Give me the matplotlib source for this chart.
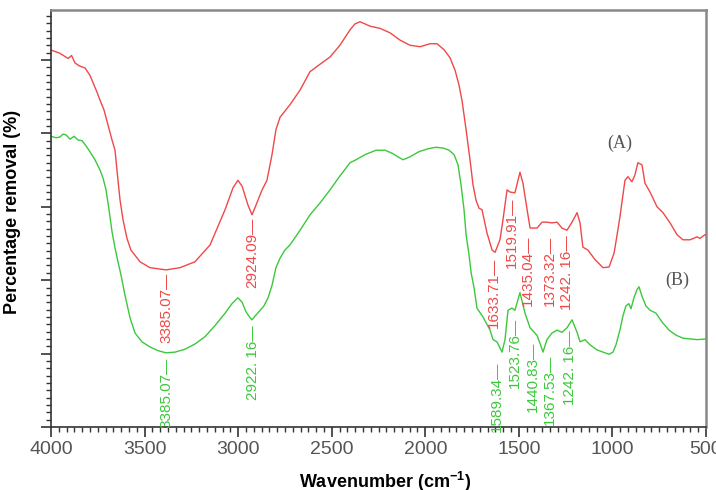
import numpy as np
import matplotlib
matplotlib.use("Agg")
import matplotlib.pyplot as plt
from matplotlib.ticker import MultipleLocator, AutoMinorLocator, NullFormatter

# spectrum (A) - red
wn_a = [4000, 3952, 3909, 3890, 3872, 3850, 3818, 3792, 3754, 3738, 3717, 3695, 3674,
        3658, 3642, 3631, 3615, 3594, 3573, 3524, 3471, 3385, 3311, 3231, 3150, 3070,
        3027, 3001, 2979, 2947, 2926, 2905, 2872, 2846, 2819, 2798, 2776, 2723, 2669,
        2616, 2563, 2509, 2456, 2402, 2376, 2349, 2295, 2242, 2189, 2135, 2082, 2028,
        1975, 1937, 1900, 1868, 1841, 1820, 1804, 1782, 1761, 1745, 1729, 1713, 1697,
        1670, 1643, 1627, 1601, 1585, 1563, 1547, 1521, 1494, 1478, 1456, 1440, 1403,
        1376, 1350, 1323, 1296, 1270, 1243, 1216, 1189, 1173, 1158, 1131, 1093, 1050,
        1018, 991, 975, 960, 933, 917, 896, 880, 864, 842, 826, 799, 762, 730, 692,
        655, 623, 585, 548, 532, 505, 500]
val_a = [51.35, 50.9, 50.2, 50.6, 49.6, 49.2, 48.9, 47.9, 45.6, 44.5, 43.2, 41.1, 39.1,
         37.7, 33.6, 30.9, 28.2, 25.7, 24.1, 22.5, 21.7, 21.4, 21.7, 22.5, 24.8, 29.6,
         32.6, 33.6, 32.8, 30.2, 28.9, 30.2, 32.3, 33.6, 37.1, 40.5, 42.2, 43.9, 45.9,
         48.4, 49.4, 50.4, 52.0, 54.1, 54.9, 55.2, 54.6, 54.3, 53.7, 52.7, 52.0, 51.8,
         52.2, 52.2, 51.4, 50.3, 48.6, 46.6, 44.5, 40.5, 36.4, 33.0, 30.9, 29.8, 29.6,
         26.4, 24.1, 23.8, 25.5, 28.2, 32.3, 32.0, 31.9, 34.7, 33.2, 29.6, 27.1, 27.1,
         27.9, 27.9, 27.8, 27.9, 27.1, 26.8, 27.9, 29.2, 27.8, 24.5, 24.1, 22.8, 21.7,
         21.8, 23.7, 26.2, 28.6, 33.6, 34.1, 33.4, 34.3, 36.0, 35.7, 33.2, 32.0, 30.0,
         29.2, 27.8, 26.2, 25.5, 25.5, 25.9, 25.7, 26.2, 26.1]

# spectrum (B) - green
wn_b = [4000, 3973, 3952, 3936, 3920, 3898, 3877, 3856, 3834, 3813, 3792, 3765, 3738,
        3722, 3706, 3690, 3674, 3658, 3642, 3626, 3605, 3578, 3551, 3514, 3471, 3428,
        3385, 3337, 3284, 3231, 3177, 3124, 3070, 3033, 3001, 2979, 2958, 2937, 2926,
        2910, 2889, 2862, 2840, 2819, 2798, 2776, 2750, 2723, 2669, 2616, 2563, 2509,
        2456, 2402, 2370, 2322, 2263, 2215, 2178, 2146, 2119, 2082, 2034, 1985, 1943,
        1905, 1873, 1846, 1825, 1809, 1793, 1782, 1766, 1755, 1739, 1724, 1692, 1654,
        1638, 1617, 1590, 1574, 1558, 1537, 1521, 1494, 1467, 1440, 1403, 1387, 1371,
        1350, 1323, 1296, 1270, 1243, 1216, 1189, 1173, 1147, 1120, 1082, 1050, 1018,
        997, 981, 960, 944, 928, 912, 901, 885, 869, 858, 842, 821, 799, 767, 735, 698,
        660, 623, 585, 548, 500]
val_b = [39.6, 39.4, 39.5, 39.9, 39.8, 39.2, 39.6, 39.1, 39.0, 38.3, 37.5, 36.4, 35.0,
         33.9, 32.3, 29.6, 26.6, 24.4, 22.5, 20.7, 18.0, 14.9, 12.8, 11.6, 10.9, 10.4,
         10.1, 10.2, 10.6, 11.3, 12.3, 13.8, 15.5, 16.8, 17.6, 17.0, 15.7, 14.9, 14.6,
         15.1, 15.7, 16.5, 17.6, 19.3, 21.7, 23.0, 24.1, 24.8, 26.8, 28.9, 30.5, 32.3,
         34.2, 36.0, 36.4, 37.1, 37.7, 37.7, 37.3, 36.8, 36.4, 36.8, 37.5, 37.9, 38.1,
         38.0, 37.7, 37.1, 35.7, 33.0, 29.6, 26.2, 23.4, 21.0, 18.9, 16.2, 15.0, 13.2,
         11.9, 11.6, 10.2, 11.9, 15.9, 16.2, 15.9, 18.3, 15.5, 13.5, 12.5, 11.4, 10.2,
         11.9, 12.8, 13.2, 12.9, 13.5, 14.6, 12.9, 11.6, 11.9, 11.2, 10.5, 10.2, 9.9,
         10.2, 11.2, 13.2, 15.1, 16.5, 16.8, 16.1, 17.6, 18.7, 19.1, 17.8, 16.5, 15.9,
         15.5, 14.3, 13.2, 12.5, 12.1, 12.0, 11.9, 12.0]

peaks_a = ["3385.07", "2924.09", "1633.71", "1519.91", "1435.04", "1373.32", "1242. 16"]
peaks_b = ["3385.07", "2922. 16", "1589.34", "1523.76", "1440.83", "1367.53", "1242. 16"]

red = "#f04848"
green = "#3cc83c"

fig = plt.figure(figsize=(7.16, 4.90), dpi=100)
ax = fig.add_axes([51 / 716, 1 - 427 / 490, 655 / 716, 417 / 490])

ax.plot(wn_a, val_a, color=red, lw=1.0)
ax.plot(wn_b, val_b, color=green, lw=1.0)

ax.set_xlim(4000, 500)
ax.set_ylim(0, 56.8)

# peak labels: top of text just below the curve, a few shifted to avoid crowding
top_a = [21.0, 28.5, 23.1, 31.2, 26.0, 26.1, 26.1]
shift_a = [0, 0, 0, 17, 16, -39, 0]
top_b = [9.5, 13.9, 8.9, 14.9, 11.6, 9.8, 13.2]
shift_b = [0, 0, 28, 0, -17, -33, -15]
for p, t, s in zip(peaks_a, top_a, shift_a):
    ax.text(float(p.replace(" ", "")) + s, t, p + "\u2014", rotation=90, ha="center",
            va="top", color=red, fontsize=11, family="Liberation Sans")
for p, t, s in zip(peaks_b, top_b, shift_b):
    ax.text(float(p.replace(" ", "")) + s, t, p + "\u2014", rotation=90, ha="center",
            va="top", color=green, fontsize=11, family="Liberation Sans")

ax.text(959, 38.6, "(A)", family="Liberation Serif", fontsize=13, color="#555",
        ha="center", va="center")
ax.text(655, 20.0, "(B)", family="Liberation Serif", fontsize=13, color="#555",
        ha="center", va="center")

ax.xaxis.set_major_locator(MultipleLocator(500))
ax.xaxis.set_minor_locator(AutoMinorLocator(12))
ax.yaxis.set_major_locator(MultipleLocator(10))
ax.yaxis.set_minor_locator(AutoMinorLocator(10))
ax.yaxis.set_major_formatter(NullFormatter())
ax.tick_params(axis="both", which="major", direction="out", length=7, width=1.2,
               color="#333", labelsize=14, labelcolor="#555")
ax.tick_params(axis="both", which="minor", direction="out", length=3.5, width=1,
               color="#333")
ax.tick_params(axis="x", pad=3)
for lab in ax.get_xticklabels():
    lab.set_family("Liberation Sans")

for side in ["left", "bottom"]:
    ax.spines[side].set_color("#333")
    ax.spines[side].set_linewidth(1.2)
for side in ["top", "right"]:
    ax.spines[side].set_color("#888")
    ax.spines[side].set_linewidth(1.8)

plt.rcParams["mathtext.default"] = "regular"
ax.set_xlabel(r"Wavenumber (cm$^{-1}$)", fontsize=13, fontweight="bold",
              family="Liberation Sans", va="center")
ax.xaxis.set_label_coords(0.51, -0.132)
ax.set_ylabel("Percentage removal (%)", fontsize=13, fontweight="bold",
              family="Liberation Sans", va="center")
ax.yaxis.set_label_coords(-0.0595, 0.516)

fig.savefig("out.png", dpi=100)
